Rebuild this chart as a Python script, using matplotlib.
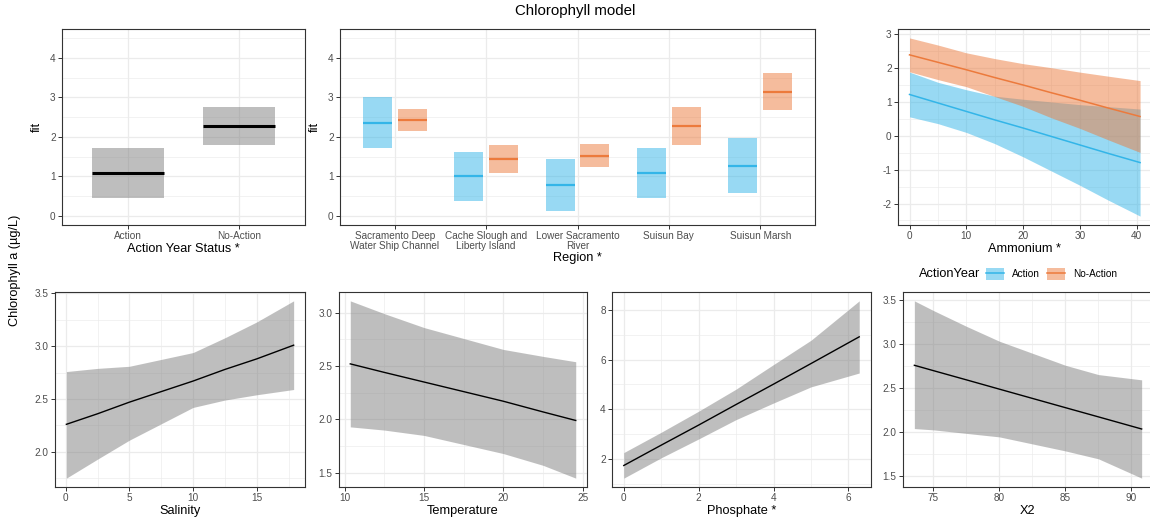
import numpy as np
import matplotlib.pyplot as plt
from matplotlib.patches import Patch
from matplotlib.lines import Line2D
from matplotlib.ticker import MultipleLocator, AutoMinorLocator, FormatStrFormatter

plt.rcParams['font.family'] = ['Liberation Sans', 'DejaVu Sans']
plt.rcParams['axes.unicode_minus'] = False

# --- model effects ---
status = ['Action', 'No-Action']
status_fit = [1.09, 2.28]
status_lo = [0.46, 1.79]
status_hi = [1.72, 2.76]

regions = ['Sacramento Deep\nWater Ship Channel', 'Cache Slough and\nLiberty Island',
           'Lower Sacramento\nRiver', 'Suisun Bay', 'Suisun Marsh']
reg_act_fit = [2.36, 1.00, 0.79, 1.09, 1.27]
reg_act_lo = [1.73, 0.38, 0.13, 0.46, 0.58]
reg_act_hi = [3.01, 1.61, 1.44, 1.72, 1.96]
reg_no_fit = [2.42, 1.44, 1.53, 2.27, 3.14]
reg_no_lo = [2.14, 1.08, 1.24, 1.79, 2.67]
reg_no_hi = [2.71, 1.79, 1.82, 2.76, 3.62]

amm = [0, 5, 10, 15, 20, 25, 30, 35, 40.6]
amm_act_fit = [1.22, 0.97, 0.72, 0.47, 0.23, -0.02, -0.27, -0.52, -0.79]
amm_act_lo = [0.56, 0.36, 0.10, -0.23, -0.62, -1.04, -1.46, -1.90, -2.37]
amm_act_hi = [1.88, 1.58, 1.36, 1.17, 1.08, 1.00, 0.92, 0.86, 0.79]
amm_no_fit = [2.39, 2.17, 1.95, 1.72, 1.50, 1.27, 1.05, 0.82, 0.57]
amm_no_lo = [1.89, 1.66, 1.45, 1.16, 0.87, 0.53, 0.22, -0.12, -0.49]
amm_no_hi = [2.89, 2.68, 2.45, 2.28, 2.13, 2.01, 1.88, 1.76, 1.63]

sal = [0.05, 2.5, 5, 10, 12.5, 15, 17.9]
sal_fit = [2.26, 2.36, 2.47, 2.67, 2.78, 2.88, 3.01]
sal_lo = [1.75, 1.93, 2.11, 2.42, 2.49, 2.54, 2.59]
sal_hi = [2.76, 2.79, 2.81, 2.94, 3.08, 3.23, 3.43]

temp = [10.35, 12.5, 15, 20, 22.5, 24.56]
temp_fit = [2.52, 2.44, 2.35, 2.17, 2.07, 1.99]
temp_lo = [1.93, 1.90, 1.85, 1.68, 1.57, 1.45]
temp_hi = [3.11, 2.99, 2.86, 2.655, 2.59, 2.54]

phos = [0, 1, 2, 3, 4, 5, 6.29]
phos_fit = [1.73, 2.55, 3.36, 4.19, 5.01, 5.84, 6.92]
phos_lo = [1.22, 2.04, 2.80, 3.58, 4.25, 4.90, 5.46]
phos_hi = [2.25, 3.07, 3.92, 4.81, 5.80, 6.78, 8.37]

x2 = [73.56, 75, 77.5, 80, 85, 87.5, 90.77]
x2_fit = [2.756, 2.695, 2.59, 2.484, 2.273, 2.168, 2.03]
x2_lo = [2.035, 2.02, 1.98, 1.94, 1.78, 1.69, 1.47]
x2_hi = [3.49, 3.38, 3.20, 3.03, 2.756, 2.65, 2.59]

BLUE = '#33B5E8'
ORANGE = '#EC7A3C'
GREY = '#7F7F7F'
TXT = 9.2
TICK = 7.2

W, H = 1150, 520
fig = plt.figure(figsize=(W / 100, H / 100), dpi=100)


def rect(x0, x1, y0, y1):
    return [x0 / W, 1 - y1 / H, (x1 - x0) / W, (y1 - y0) / H]


def padded(lo, hi, f=0.05):
    r = hi - lo
    return lo - f * r, hi + f * r


def style(ax):
    for s in ax.spines.values():
        s.set_color('#333333')
        s.set_linewidth(0.8)
    ax.set_axisbelow(True)
    ax.grid(which='major', color='#EBEBEB', lw=0.9)
    ax.grid(which='minor', color='#EBEBEB', lw=0.45)
    ax.tick_params(which='major', length=3, width=0.7, color='#333333',
                   labelsize=TICK, labelcolor='#4D4D4D', pad=1.5)
    ax.tick_params(which='minor', length=0)


def ticks(ax, xstep, ystep, yfmt=None):
    if xstep:
        ax.xaxis.set_major_locator(MultipleLocator(xstep))
        ax.xaxis.set_minor_locator(AutoMinorLocator(2))
    ax.yaxis.set_major_locator(MultipleLocator(ystep))
    ax.yaxis.set_minor_locator(AutoMinorLocator(2))
    if yfmt:
        ax.yaxis.set_major_formatter(FormatStrFormatter(yfmt))


# Action year status
ax = fig.add_axes(rect(62, 305, 29, 225))
style(ax)
xs = np.arange(len(status)) + 1
ax.bar(xs, np.subtract(status_hi, status_lo), bottom=status_lo, width=0.65,
       color=GREY, alpha=0.5, lw=0)
ax.hlines(status_fit, xs - 0.325, xs + 0.325, color='black', lw=2.2)
ax.set_xlim(0.4, len(status) + 0.6)
ax.set_ylim(padded(0, 4.5))
ax.set_xticks(xs, status)
ticks(ax, None, 1)
ax.set_ylabel('fit', fontsize=TXT, labelpad=5)
ax.set_xlabel('Action Year Status *', fontsize=TXT, labelpad=1)

# Region
ax = fig.add_axes(rect(340, 815, 29, 225))
style(ax)
xs = np.arange(len(regions)) + 1
for off, lo, hi, fit, col in [(-0.19, reg_act_lo, reg_act_hi, reg_act_fit, BLUE),
                              (0.19, reg_no_lo, reg_no_hi, reg_no_fit, ORANGE)]:
    ax.bar(xs + off, np.subtract(hi, lo), bottom=lo, width=0.32, color=col, alpha=0.5, lw=0)
    ax.hlines(fit, xs + off - 0.16, xs + off + 0.16, color=col, lw=1.6)
ax.set_xlim(0.4, len(regions) + 0.6)
ax.set_ylim(padded(0, 4.5))
ax.set_xticks(xs, regions, linespacing=0.95)
ticks(ax, None, 1)
ax.set_ylabel('fit', fontsize=TXT, labelpad=5)
ax.set_xlabel('Region *', fontsize=TXT, labelpad=1)

# Ammonium
ax = fig.add_axes(rect(898, 1151.6, 29, 225))
style(ax)
for lo, hi, fit, col in [(amm_act_lo, amm_act_hi, amm_act_fit, BLUE),
                         (amm_no_lo, amm_no_hi, amm_no_fit, ORANGE)]:
    ax.fill_between(amm, lo, hi, color=col, alpha=0.5, lw=0)
    ax.plot(amm, fit, color=col, lw=1.1)
ax.set_xlim(padded(min(amm), max(amm)))
ax.set_ylim(padded(min(amm_act_lo), max(amm_no_hi)))
ticks(ax, 10, 1)
ax.set_xlabel('Ammonium *', fontsize=TXT, labelpad=1)

# continuous effects in the bottom row
panels = [
    ((55, 305), sal, sal_fit, sal_lo, sal_hi, 'Salinity', 5, 0.5, '%.1f'),
    ((339, 587), temp, temp_fit, temp_lo, temp_hi, 'Temperature', 5, 0.5, '%.1f'),
    ((612, 871), phos, phos_fit, phos_lo, phos_hi, 'Phosphate *', 2, 2, None),
    ((903, 1153), x2, x2_fit, x2_lo, x2_hi, 'X2', 5, 0.5, '%.1f'),
]
for (l, r), x, fit, lo, hi, name, xstep, ystep, fmt in panels:
    ax = fig.add_axes(rect(l, r, 292, 487))
    style(ax)
    ax.fill_between(x, lo, hi, color=GREY, alpha=0.5, lw=0)
    ax.plot(x, fit, color='black', lw=1.0)
    ax.set_xlim(padded(min(x), max(x)))
    ax.set_ylim(padded(min(lo), max(hi)))
    ticks(ax, xstep, ystep, fmt)
    ax.set_xlabel(name, fontsize=TXT, labelpad=1)

fig.text(575 / W, 1 - 11 / H, 'Chlorophyll model', fontsize=10.8, ha='center', va='center')
fig.text(15 / W, 1 - 270 / H, 'Chlorophyll a (µg/L)', fontsize=TXT, rotation=90,
         ha='center', va='center')

# legend for the action year colours
fig.text(919 / W, 1 - 274 / H, 'ActionYear', fontsize=TXT, ha='left', va='center')
handles = [(Patch(facecolor=BLUE, alpha=0.5, lw=0), Line2D([], [], color=BLUE, lw=1.1)),
           (Patch(facecolor=ORANGE, alpha=0.5, lw=0), Line2D([], [], color=ORANGE, lw=1.1))]
fig.legend(handles, ['Action', 'No-Action'], loc='center left',
           bbox_to_anchor=(986 / W, 1 - 274 / H), ncol=2, frameon=False,
           fontsize=TICK, handlelength=1.8, handleheight=1.5, handletextpad=0.8,
           columnspacing=0.7, borderpad=0, borderaxespad=0)

fig.savefig('out.png', dpi=100)
